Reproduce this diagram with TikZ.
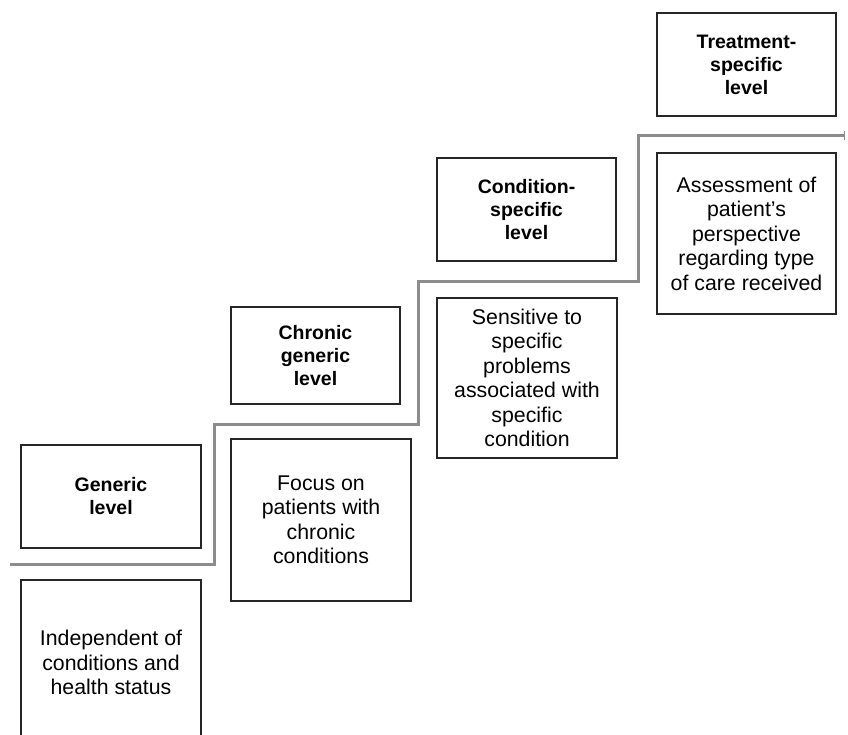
\documentclass[tikz,border=0pt]{standalone}
\usepackage{fontspec}
\setmainfont{Liberation Sans}
\usetikzlibrary{arrows.meta}
\begin{document}
\begin{tikzpicture}[x=1pt,y=-1pt,
  box/.style={draw=black!85, line width=1.1pt, align=center, inner sep=0pt,
    font=\fontsize{21.3}{24.5}\selectfont},
  levelbox/.style={box, font=\fontsize{19.5}{23}\selectfont\bfseries},
  stair/.style={draw=black!45, line width=3pt, line join=miter}]
\useasboundingbox (0,0) rectangle (848,735);
\clip (0,0) rectangle (848,735);
% staircase
\coordinate (s0) at (10,564);
\coordinate (s1) at (214,564);
\coordinate (s2) at (214,424);
\coordinate (s3) at (418,424);
\coordinate (s4) at (418,281);
\coordinate (s5) at (638,281);
\coordinate (s6) at (638,136);
\coordinate (s7) at (845,136);
\draw[stair, -{Bar[width=9pt,line width=1.5pt]}] (s0) -- (s1) -- (s2) -- (s3) -- (s4) -- (s5) -- (s6) -- (s7);
% level boxes
\node[levelbox, minimum width=180pt, minimum height=103pt] (gen) at (111,496.5) {Generic\\level};
\node[levelbox, minimum width=169pt, minimum height=97pt] (chr) at (315.5,355.5) {Chronic\\generic\\level};
\node[levelbox, minimum width=179pt, minimum height=103pt] (con) at (526.5,209.5) {Condition-\\specific\\level};
\node[levelbox, minimum width=179pt, minimum height=103pt] (tre) at (746.5,64.5) {Treatment-\\specific\\level};
% description boxes
\node[box, minimum width=180pt, minimum height=165pt] (ind) at (111,662.5) {Independent of\\conditions and\\health status};
\node[box, minimum width=180pt, minimum height=162pt] (foc) at (321,520) {Focus on\\patients with\\chronic\\conditions};
\node[box, minimum width=180pt, minimum height=160pt] (sen) at (527,378) {Sensitive to\\specific\\problems\\associated with\\specific\\condition};
\node[box, minimum width=179pt, minimum height=161pt] (ass) at (746.5,233.5) {Assessment of\\patient’s\\perspective\\regarding type\\of care received};
\end{tikzpicture}
\end{document}
